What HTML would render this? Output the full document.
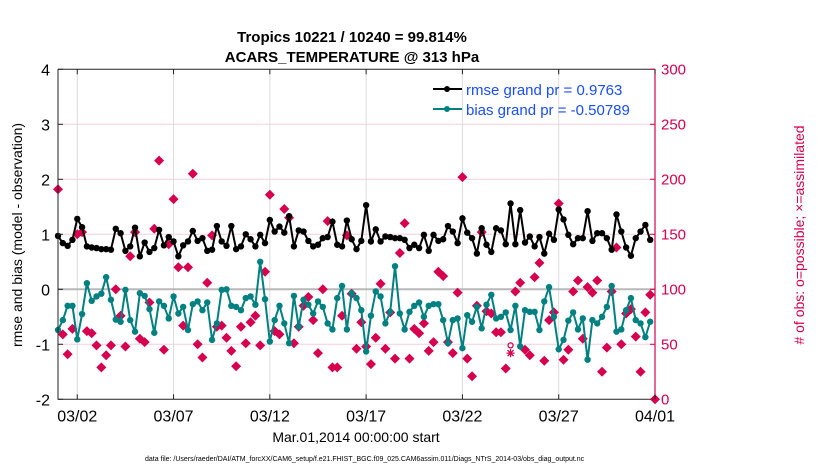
<!DOCTYPE html>
<html><head><meta charset="utf-8"><style>
html,body{margin:0;padding:0;background:#fff;}
svg text{font-family:"Liberation Sans",Arial,sans-serif;}
</style></head><body>
<svg id="chart" width="830" height="470" xmlns="http://www.w3.org/2000/svg">
<text x="352" y="42" text-anchor="middle" font-size="15" font-weight="bold">Tropics 10221 / 10240 = 99.814%</text>
<text x="352" y="62" text-anchor="middle" font-size="15" font-weight="bold">ACARS_TEMPERATURE @ 313 hPa</text>
<g id="grid"></g>
<g id="marks"></g>
<g id="axes"></g>
<text transform="translate(22,235) rotate(-90)" text-anchor="middle" font-size="14">rmse and bias (model - observation)</text>
<text transform="translate(804,235) rotate(-90)" text-anchor="middle" font-size="14" fill="#d6004f"># of obs: o=possible; ×=assimilated</text>
<text x="356" y="442" text-anchor="middle" font-size="14">Mar.01,2014 00:00:00 start</text>
<text x="145" y="461" font-size="7">data file: /Users/raeder/DAI/ATM_forcXX/CAM6_setup/f.e21.FHIST_BGC.f09_025.CAM6assim.011/Diags_NTrS_2014-03/obs_diag_output.nc</text>
<g>
<line x1="433" y1="89" x2="462" y2="89" stroke="#000" stroke-width="2"/>
<circle cx="447" cy="89" r="3" fill="#000"/>
<text x="466" y="95" font-size="15" fill="#1a4dff">rmse grand pr = 0.9763</text>
<line x1="433" y1="109" x2="462" y2="109" stroke="#008080" stroke-width="2"/>
<circle cx="447" cy="109" r="3" fill="#008080"/>
<text x="466" y="115" font-size="15" fill="#1a4dff">bias grand pr = -0.50789</text>
</g>
</svg>
<script>
const rmse = [0.97,0.84,0.79,0.9,1.28,1.13,0.78,0.76,0.75,0.73,0.73,0.72,1.1,1.02,0.7,0.78,1.12,0.6,0.85,0.68,0.75,1.08,0.8,0.95,0.87,0.6,0.8,0.87,1.06,0.88,0.93,0.7,0.72,1.15,0.87,0.79,1.15,0.73,0.78,1.0,0.91,
0.78,0.99,0.84,1.26,1.05,1.14,1.03,1.33,0.78,1.07,1.05,0.88,0.78,0.81,0.93,0.95,1.23,0.81,0.78,1.25,0.91,0.73,0.88,1.53,0.87,1.09,0.87,0.96,0.95,0.93,0.93,0.9,0.75,0.81,0.75,0.99,0.7,0.99,0.88,
0.91,1.15,1.05,0.84,1.29,1.03,0.93,0.65,1.11,0.81,0.68,1.11,1.07,0.82,1.56,0.82,1.44,0.85,0.96,0.78,0.95,0.65,1.01,0.9,1.45,1.27,0.99,0.82,0.93,0.93,1.42,0.88,1.02,1.02,0.93,0.72,1.36,1.05,0.76,0.61,0.93,1.05,1.17,0.9];
const bias = [-0.74,-0.56,-0.3,-0.3,-0.91,-0.45,0.11,-0.21,-0.13,-0.08,0.22,-0.19,-0.55,-0.59,-0.01,-0.56,-0.77,-0.07,-0.12,-0.36,-0.79,-0.22,-0.3,-0.53,-0.13,-0.44,-0.32,-0.74,-0.27,-0.22,-0.38,-0.24,-0.92,-0.62,-0.01,0,-0.3,-0.32,-0.38,-0.16,-0.13,
-0.28,0.5,-0.18,-0.95,-0.56,-0.3,-0.62,-0.98,-0.12,-0.68,-0.19,-0.28,-0.44,-0.22,-0.32,-0.62,-0.73,-0.16,0.06,-0.73,-0.07,-0.16,-0.38,-1.13,-0.48,-0.04,-0.13,-0.62,-0.41,0.42,-0.44,-0.73,-0.41,-0.3,-0.24,-0.5,-0.3,-0.27,-0.27,
-0.56,-0.98,-0.56,-0.53,-1.07,-0.47,-0.59,-0.32,-0.71,-0.28,-0.1,-0.53,-0.5,-0.42,-0.74,-0.3,-1.04,-0.38,-0.41,-0.41,-0.74,-0.22,0.04,-0.5,-1.09,-0.92,-0.57,-0.42,-0.73,-0.53,-1.28,-0.56,-0.62,-0.5,-0.32,0.06,-0.77,-0.73,-0.38,-0.16,-0.56,-0.62,-0.87,-0.59];
const nobs = [191,59,41,64,150,152,62,60,49,29,40,49,100,76,48,130,152,55,52,88,155,217,45,141,182,120,67,120,205,50,38,106,149,66,67,56,44,30,66,51,70,
76,49,116,186,62,59,173,165,51,66,85,93,72,42,100,162,29,29,76,149,96,46,70,48,32,56,105,46,79,37,133,160,37,64,60,69,44,52,116,112,
52,42,97,202,37,21,85,152,80,78,61,61,28,null,98,106,45,40,111,124,35,72,79,178,36,45,98,108,55,102,97,108,25,47,98,138,50,78,82,57,25,79,95,0];
const possibleExtra = [[94,49]];
const assimExtra = [[94,42]];
const leftTicks = [-2,-1,0,1,2,3,4];
const rightTicks = [0,50,100,150,200,250,300];
const dateTicks = ["03/02","03/07","03/12","03/17","03/22","03/27","04/01"];
const dateTickDays = [1,6,11,16,21,26,31];

const X0=58, X1=655, Y0=399.3, Y1=69.3;
const stepDays = 0.25;
const xs = d => X0 + d*(X1-X0)/31;
const yl = v => Y0 - (v+2)*(Y0-Y1)/6;
const yr = c => Y0 - c*(Y0-Y1)/300;
const NS="http://www.w3.org/2000/svg";
function mk(parent, tag, attrs){const e=document.createElementNS(NS,tag);for(const k in attrs)e.setAttribute(k,attrs[k]);parent.appendChild(e);return e;}
const grid=document.getElementById('grid'), marks=document.getElementById('marks'), axes=document.getElementById('axes');

rightTicks.forEach(c=>{ if(c>0&&c<300&&c!==100){const l=mk(grid,'line',{x1:X0,x2:X1,y1:yr(c),y2:yr(c),stroke:'#f4cfdc','stroke-width':1});

}});
dateTickDays.forEach(d=>{const l=mk(grid,'line',{x1:xs(d),x2:xs(d),y1:Y1,y2:Y0,stroke:'#dcdcdc','stroke-width':1});

});
const zl=mk(grid,'line',{x1:X0,x2:X1,y1:yl(0),y2:yl(0),stroke:'#b8b8b8','stroke-width':2});



nobs.forEach((c,i)=>{ if(c===null) return; const x=xs(i*stepDays), y=yr(c);
const p=mk(marks,'path',{d:`M${x} ${y-5}L${x+5} ${y}L${x} ${y+5}L${x-5} ${y}Z`,fill:'#d6004f'});

});
possibleExtra.forEach(([i,c])=>{const ci=mk(marks,'circle',{cx:xs(i*stepDays),cy:yr(c),r:2.5,fill:'none',stroke:'#d6004f','stroke-width':1.3});

});
assimExtra.forEach(([i,c])=>{const x=xs(i*stepDays), y=yr(c);
const s=mk(marks,'path',{d:`M${x-4} ${y}L${x+4} ${y}M${x} ${y-4}L${x} ${y+4}M${x-3} ${y-3}L${x+3} ${y+3}M${x-3} ${y+3}L${x+3} ${y-3}`,stroke:'#d6004f','stroke-width':1.3});

});

function series(vals,color,name){
  const pts=vals.map((v,i)=>xs(i*stepDays)+','+yl(v)).join(' ');
  const pl=mk(marks,'polyline',{points:pts,fill:'none',stroke:color,'stroke-width':2});
  
  
  vals.forEach((v,i)=>{const c=mk(marks,'circle',{cx:xs(i*stepDays),cy:yl(v),r:3.2,fill:color});
  
  });
}
series(bias,'#008080','bias');
series(rmse,'#000000','rmse');

const fr=mk(axes,'path',{d:`M${X0} ${Y1}L${X1} ${Y1}M${X0} ${Y1}L${X0} ${Y0}L${X1} ${Y0}`,stroke:'#222',fill:'none','stroke-width':1});


const ra=mk(axes,'line',{x1:X1,x2:X1,y1:Y1,y2:Y0,stroke:'#d6004f','stroke-width':1.2});


leftTicks.forEach(v=>{mk(axes,'line',{x1:X0,x2:X0+5,y1:yl(v),y2:yl(v),stroke:'#222'});
const t=mk(axes,'text',{x:X0-8,y:yl(v)+6,'text-anchor':'end','font-size':16});t.textContent=v;

});
rightTicks.forEach(c=>{mk(axes,'line',{x1:X1-5,x2:X1,y1:yr(c),y2:yr(c),stroke:'#d6004f'});
const t=mk(axes,'text',{x:X1+6,y:yr(c)+5,'font-size':15,fill:'#d6004f'});t.textContent=c;

});
dateTicks.forEach((lab,k)=>{const x=xs(dateTickDays[k]);
mk(axes,'line',{x1:x,x2:x,y1:Y0,y2:Y0-5,stroke:'#222'});
mk(axes,'line',{x1:x,x2:x,y1:Y1,y2:Y1+5,stroke:'#222'});
const t=mk(axes,'text',{x:x,y:Y0+22,'text-anchor':'middle','font-size':16});t.textContent=lab;

});
</script>
</body></html>
